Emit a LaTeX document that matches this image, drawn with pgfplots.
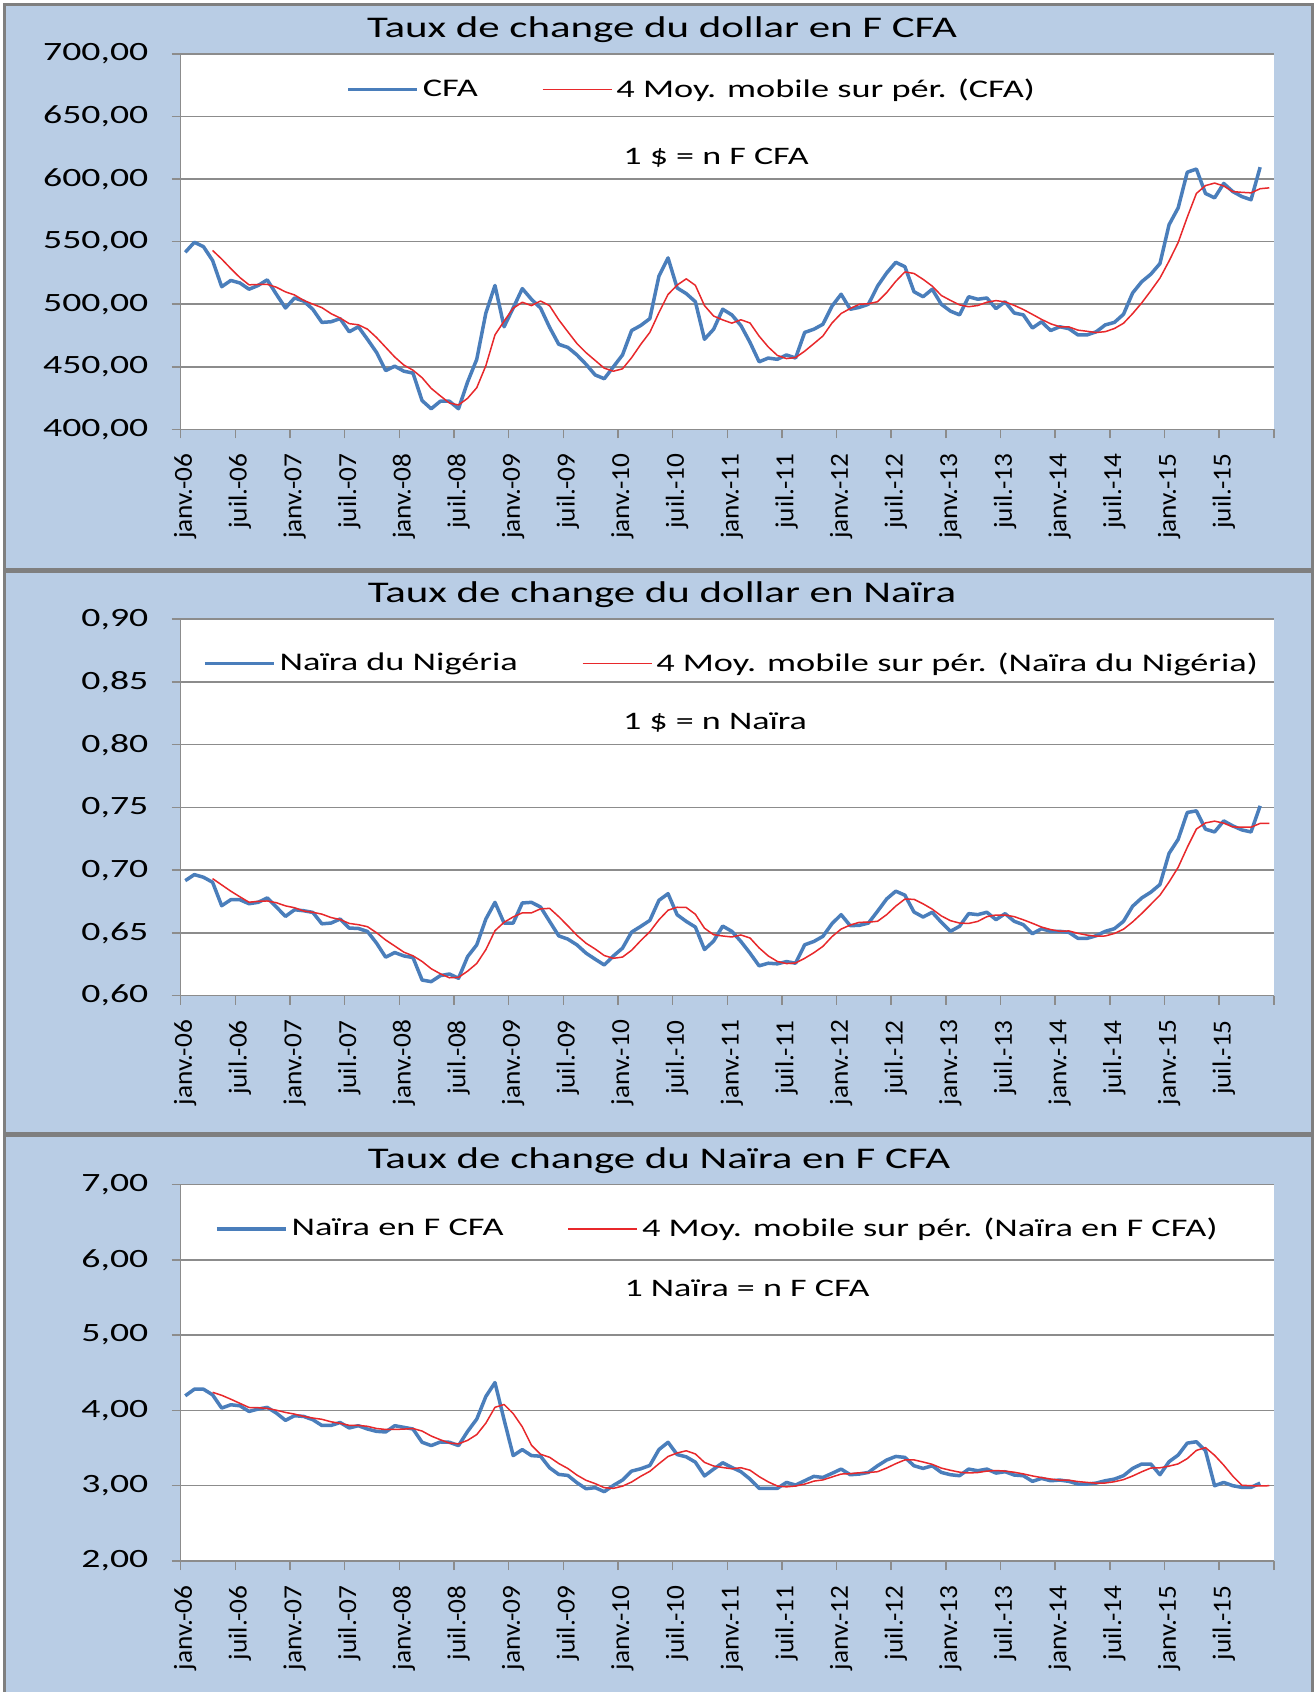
\documentclass[border=0pt]{standalone}
\usepackage{fontspec}
\setmainfont{Carlito}[FakeStretch=1.43]
\newfontfamily\xlabfont{Carlito}[FakeStretch=1.05]
\usepackage{pgfplots}
\usepackage{pgfplotstable}
\pgfplotsset{compat=1.18}
\definecolor{bgblue}{HTML}{B9CDE5}
\definecolor{serblue}{HTML}{4A7EBB}
\definecolor{serred}{HTML}{E8282B}
\definecolor{gridgray}{HTML}{8C8C8C}
\definecolor{panelgray}{HTML}{7F7F7F}

% ---------- Panel 1 : CFA ----------
\pgfplotstableread[row sep=\\]{x y\\
0 541.5\\ 1 549.5\\ 2 546\\ 3 535\\ 4 514\\ 5 519\\ 6 517\\ 7 512\\ 8 515\\ 9 519.5\\
10 508\\ 11 497\\ 12 505\\ 13 502.5\\ 14 496\\ 15 485.5\\ 16 486\\ 17 488.5\\ 18 478\\ 19 482\\
20 472\\ 21 461.5\\ 22 447\\ 23 450.5\\ 24 446.5\\ 25 445\\ 26 423\\ 27 416.5\\ 28 422.5\\ 29 422.5\\
30 416.5\\ 31 438\\ 32 456\\ 33 493\\ 34 515\\ 35 482\\ 36 497\\ 37 512.5\\ 38 504\\ 39 497\\
40 481.5\\ 41 468\\ 42 465.5\\ 43 459.5\\ 44 452\\ 45 443.5\\ 46 440.5\\ 47 450\\ 48 459.5\\ 49 479\\
50 483\\ 51 488.5\\ 52 522.5\\ 53 537\\ 54 513\\ 55 508.5\\ 56 502\\ 57 472\\ 58 480\\ 59 496\\
60 491.5\\ 61 483\\ 62 469.5\\ 63 454\\ 64 457\\ 65 456\\ 66 459.5\\ 67 457\\ 68 477.5\\ 69 480\\
70 484\\ 71 498.5\\ 72 508\\ 73 496\\ 74 497.5\\ 75 500\\ 76 514.5\\ 77 525\\ 78 533.5\\ 79 530\\
80 510\\ 81 506\\ 82 512\\ 83 500\\ 84 494.5\\ 85 491.5\\ 86 506\\ 87 504\\ 88 505\\ 89 496.5\\
90 502\\ 91 493\\ 92 491.5\\ 93 481\\ 94 486\\ 95 479\\ 96 482\\ 97 480.5\\ 98 475.5\\ 99 475.5\\
100 478\\ 101 483.5\\ 102 485.5\\ 103 492\\ 104 509\\ 105 518\\ 106 524\\ 107 532.5\\ 108 563.5\\ 109 577\\
110 605.5\\ 111 608\\ 112 588.5\\ 113 585\\ 114 596.5\\ 115 590\\ 116 586\\ 117 583.5\\ 118 609.5\\
}\tA
\pgfplotstableread[row sep=\\]{x y\\
3 543.0\\ 4 536.1\\ 5 528.5\\ 6 521.3\\ 7 515.5\\ 8 515.8\\ 9 515.9\\ 10 513.6\\ 11 509.9\\ 12 507.4\\
13 503.1\\ 14 500.1\\ 15 497.3\\ 16 492.5\\ 17 489.0\\ 18 484.5\\ 19 483.6\\ 20 480.1\\ 21 473.4\\ 22 465.6\\
23 457.8\\ 24 451.4\\ 25 447.3\\ 26 441.3\\ 27 432.8\\ 28 426.8\\ 29 421.1\\ 30 419.5\\ 31 424.9\\ 32 433.3\\
33 450.9\\ 34 475.5\\ 35 486.5\\ 36 496.8\\ 37 501.6\\ 38 498.9\\ 39 502.6\\ 40 498.8\\ 41 487.6\\ 42 478.0\\
43 468.6\\ 44 461.3\\ 45 455.1\\ 46 448.9\\ 47 446.5\\ 48 448.4\\ 49 457.3\\ 50 467.9\\ 51 477.5\\ 52 493.3\\
53 507.8\\ 54 515.3\\ 55 520.3\\ 56 515.1\\ 57 498.9\\ 58 490.6\\ 59 487.5\\ 60 484.9\\ 61 487.6\\ 62 485.0\\
63 474.5\\ 64 465.9\\ 65 459.1\\ 66 456.6\\ 67 457.4\\ 68 462.5\\ 69 468.5\\ 70 474.6\\ 71 485.0\\ 72 492.6\\
73 496.6\\ 74 500.0\\ 75 500.4\\ 76 502.0\\ 77 509.3\\ 78 518.3\\ 79 525.8\\ 80 524.6\\ 81 519.9\\ 82 514.5\\
83 507.0\\ 84 503.1\\ 85 499.5\\ 86 498.0\\ 87 499.0\\ 88 501.6\\ 89 502.9\\ 90 501.9\\ 91 499.1\\ 92 495.8\\
93 491.9\\ 94 487.9\\ 95 484.4\\ 96 482.0\\ 97 481.9\\ 98 479.3\\ 99 478.4\\ 100 477.4\\ 101 478.1\\ 102 480.6\\
103 484.8\\ 104 492.5\\ 105 501.1\\ 106 510.8\\ 107 520.9\\ 108 534.5\\ 109 549.3\\ 110 569.6\\ 111 588.5\\ 112 594.8\\
113 596.8\\ 114 594.5\\ 115 590.0\\ 116 589.4\\ 117 589.0\\ 118 592.3\\ 119 593.0\\
}\mA

% ---------- Panel 2 : Naira ----------
\pgfplotstableread[row sep=\\]{x y\\
0 0.6917\\ 1 0.6965\\ 2 0.6944\\ 3 0.6904\\ 4 0.6717\\ 5 0.6765\\ 6 0.6765\\ 7 0.6733\\ 8 0.6744\\ 9 0.6779\\
10 0.6707\\ 11 0.6632\\ 12 0.6685\\ 13 0.6677\\ 14 0.6664\\ 15 0.6573\\ 16 0.6579\\ 17 0.6611\\ 18 0.6539\\ 19 0.6536\\
20 0.6512\\ 21 0.6419\\ 22 0.6307\\ 23 0.6344\\ 24 0.6317\\ 25 0.6304\\ 26 0.6125\\ 27 0.6112\\ 28 0.6160\\ 29 0.6173\\
30 0.6139\\ 31 0.6312\\ 32 0.6405\\ 33 0.6611\\ 34 0.6744\\ 35 0.6579\\ 36 0.6579\\ 37 0.6739\\ 38 0.6744\\ 39 0.6707\\
40 0.6592\\ 41 0.6477\\ 42 0.6451\\ 43 0.6405\\ 44 0.6339\\ 45 0.6291\\ 46 0.6245\\ 47 0.6317\\ 48 0.6379\\ 49 0.6507\\
50 0.6552\\ 51 0.6600\\ 52 0.6760\\ 53 0.6813\\ 54 0.6645\\ 55 0.6592\\ 56 0.6547\\ 57 0.6368\\ 58 0.6435\\ 59 0.6555\\
60 0.6513\\ 61 0.6432\\ 62 0.6339\\ 63 0.6238\\ 64 0.6259\\ 65 0.6254\\ 66 0.6272\\ 67 0.6259\\ 68 0.6406\\ 69 0.6432\\
70 0.6473\\ 71 0.6574\\ 72 0.6646\\ 73 0.6558\\ 74 0.6561\\ 75 0.6579\\ 76 0.6673\\ 77 0.6771\\ 78 0.6833\\ 79 0.6801\\
80 0.6667\\ 81 0.6627\\ 82 0.6665\\ 83 0.6585\\ 84 0.6513\\ 85 0.6553\\ 86 0.6654\\ 87 0.6646\\ 88 0.6665\\ 89 0.6606\\
90 0.6654\\ 91 0.6593\\ 92 0.6566\\ 93 0.6494\\ 94 0.6534\\ 95 0.6513\\ 96 0.6513\\ 97 0.6505\\ 98 0.6457\\ 99 0.6457\\
100 0.6478\\ 101 0.6513\\ 102 0.6534\\ 103 0.6593\\ 104 0.6713\\ 105 0.6779\\ 106 0.6825\\ 107 0.6886\\ 108 0.7134\\ 109 0.7246\\
110 0.7460\\ 111 0.7473\\ 112 0.7327\\ 113 0.7305\\ 114 0.7393\\ 115 0.7353\\ 116 0.7321\\ 117 0.7305\\ 118 0.7513\\
}\tB
\pgfplotstableread[row sep=\\]{x y\\
3 0.6933\\ 4 0.6883\\ 5 0.6833\\ 6 0.6788\\ 7 0.6745\\ 8 0.6752\\ 9 0.6755\\ 10 0.6741\\ 11 0.6716\\ 12 0.6701\\
13 0.6675\\ 14 0.6665\\ 15 0.6650\\ 16 0.6623\\ 17 0.6607\\ 18 0.6576\\ 19 0.6566\\ 20 0.6550\\ 21 0.6502\\ 22 0.6444\\
23 0.6396\\ 24 0.6347\\ 25 0.6318\\ 26 0.6273\\ 27 0.6215\\ 28 0.6175\\ 29 0.6143\\ 30 0.6146\\ 31 0.6196\\ 32 0.6257\\
33 0.6367\\ 34 0.6518\\ 35 0.6585\\ 36 0.6628\\ 37 0.6660\\ 38 0.6660\\ 39 0.6692\\ 40 0.6696\\ 41 0.6630\\ 42 0.6557\\
43 0.6481\\ 44 0.6418\\ 45 0.6372\\ 46 0.6320\\ 47 0.6298\\ 48 0.6308\\ 49 0.6362\\ 50 0.6439\\ 51 0.6510\\ 52 0.6605\\
53 0.6681\\ 54 0.6705\\ 55 0.6703\\ 56 0.6649\\ 57 0.6538\\ 58 0.6486\\ 59 0.6476\\ 60 0.6468\\ 61 0.6484\\ 62 0.6460\\
63 0.6381\\ 64 0.6317\\ 65 0.6273\\ 66 0.6256\\ 67 0.6261\\ 68 0.6298\\ 69 0.6342\\ 70 0.6393\\ 71 0.6471\\ 72 0.6531\\
73 0.6563\\ 74 0.6585\\ 75 0.6586\\ 76 0.6593\\ 77 0.6646\\ 78 0.6714\\ 79 0.6770\\ 80 0.6768\\ 81 0.6732\\ 82 0.6690\\
83 0.6636\\ 84 0.6598\\ 85 0.6579\\ 86 0.6576\\ 87 0.6592\\ 88 0.6630\\ 89 0.6643\\ 90 0.6643\\ 91 0.6630\\ 92 0.6605\\
93 0.6577\\ 94 0.6547\\ 95 0.6527\\ 96 0.6514\\ 97 0.6516\\ 98 0.6497\\ 99 0.6483\\ 100 0.6474\\ 101 0.6476\\ 102 0.6496\\
103 0.6530\\ 104 0.6588\\ 105 0.6655\\ 106 0.6728\\ 107 0.6801\\ 108 0.6906\\ 109 0.7023\\ 110 0.7182\\ 111 0.7328\\ 112 0.7377\\
113 0.7391\\ 114 0.7375\\ 115 0.7345\\ 116 0.7343\\ 117 0.7343\\ 118 0.7373\\ 119 0.7373\\
}\mB

% ---------- Panel 3 : Naira en F CFA ----------
\pgfplotstableread[row sep=\\]{x y\\
0 4.194\\ 1 4.282\\ 2 4.282\\ 3 4.207\\ 4 4.031\\ 5 4.075\\ 6 4.062\\ 7 3.987\\ 8 4.018\\ 9 4.040\\
10 3.965\\ 11 3.868\\ 12 3.930\\ 13 3.920\\ 14 3.877\\ 15 3.800\\ 16 3.800\\ 17 3.840\\ 18 3.767\\ 19 3.797\\
20 3.753\\ 21 3.722\\ 22 3.714\\ 23 3.797\\ 24 3.775\\ 25 3.753\\ 26 3.577\\ 27 3.533\\ 28 3.581\\ 29 3.577\\
30 3.533\\ 31 3.722\\ 32 3.885\\ 33 4.185\\ 34 4.370\\ 35 3.877\\ 36 3.400\\ 37 3.480\\ 38 3.400\\ 39 3.392\\
40 3.238\\ 41 3.150\\ 42 3.137\\ 43 3.040\\ 44 2.960\\ 45 2.974\\ 46 2.921\\ 47 3.004\\ 48 3.075\\ 49 3.194\\
50 3.225\\ 51 3.269\\ 52 3.480\\ 53 3.577\\ 54 3.414\\ 55 3.383\\ 56 3.313\\ 57 3.130\\ 58 3.220\\ 59 3.305\\
60 3.243\\ 61 3.186\\ 62 3.088\\ 63 2.965\\ 64 2.965\\ 65 2.965\\ 66 3.044\\ 67 3.009\\ 68 3.066\\ 69 3.124\\
70 3.110\\ 71 3.164\\ 72 3.221\\ 73 3.146\\ 74 3.155\\ 75 3.177\\ 76 3.265\\ 77 3.341\\ 78 3.389\\ 79 3.376\\
80 3.265\\ 81 3.230\\ 82 3.265\\ 83 3.177\\ 84 3.146\\ 85 3.133\\ 86 3.221\\ 87 3.199\\ 88 3.221\\ 89 3.168\\
90 3.186\\ 91 3.142\\ 92 3.133\\ 93 3.058\\ 94 3.097\\ 95 3.066\\ 96 3.075\\ 97 3.058\\ 98 3.022\\ 99 3.022\\
100 3.035\\ 101 3.066\\ 102 3.088\\ 103 3.133\\ 104 3.230\\ 105 3.288\\ 106 3.288\\ 107 3.146\\ 108 3.319\\ 109 3.407\\
110 3.566\\ 111 3.584\\ 112 3.465\\ 113 3.000\\ 114 3.044\\ 115 3.000\\ 116 2.978\\ 117 2.978\\ 118 3.035\\
}\tC
\pgfplotstableread[row sep=\\]{x y\\
3 4.241\\ 4 4.201\\ 5 4.149\\ 6 4.094\\ 7 4.039\\ 8 4.036\\ 9 4.027\\ 10 4.003\\ 11 3.973\\ 12 3.951\\
13 3.921\\ 14 3.899\\ 15 3.882\\ 16 3.849\\ 17 3.829\\ 18 3.802\\ 19 3.801\\ 20 3.789\\ 21 3.760\\ 22 3.747\\
23 3.747\\ 24 3.752\\ 25 3.760\\ 26 3.726\\ 27 3.660\\ 28 3.611\\ 29 3.567\\ 30 3.556\\ 31 3.603\\ 32 3.679\\
33 3.831\\ 34 4.041\\ 35 4.079\\ 36 3.958\\ 37 3.782\\ 38 3.539\\ 39 3.418\\ 40 3.378\\ 41 3.295\\ 42 3.229\\
43 3.141\\ 44 3.072\\ 45 3.028\\ 46 2.974\\ 47 2.965\\ 48 2.994\\ 49 3.049\\ 50 3.125\\ 51 3.191\\ 52 3.292\\
53 3.388\\ 54 3.435\\ 55 3.464\\ 56 3.422\\ 57 3.310\\ 58 3.262\\ 59 3.242\\ 60 3.225\\ 61 3.239\\ 62 3.206\\
63 3.121\\ 64 3.051\\ 65 2.996\\ 66 2.985\\ 67 2.996\\ 68 3.021\\ 69 3.061\\ 70 3.077\\ 71 3.116\\ 72 3.155\\
73 3.160\\ 74 3.172\\ 75 3.175\\ 76 3.186\\ 77 3.235\\ 78 3.293\\ 79 3.343\\ 80 3.343\\ 81 3.315\\ 82 3.284\\
83 3.234\\ 84 3.205\\ 85 3.180\\ 86 3.169\\ 87 3.175\\ 88 3.194\\ 89 3.202\\ 90 3.194\\ 91 3.179\\ 92 3.157\\
93 3.130\\ 94 3.108\\ 95 3.089\\ 96 3.074\\ 97 3.074\\ 98 3.055\\ 99 3.044\\ 100 3.034\\ 101 3.036\\ 102 3.053\\
103 3.081\\ 104 3.129\\ 105 3.185\\ 106 3.235\\ 107 3.238\\ 108 3.260\\ 109 3.290\\ 110 3.360\\ 111 3.469\\ 112 3.506\\
113 3.404\\ 114 3.273\\ 115 3.127\\ 116 3.006\\ 117 3.000\\ 118 2.998\\ 119 3.000\\
}\mC

\pgfplotsset{
  panel/.style={
    scale only axis,
    width=546.55pt,
    xmin=-0.5, xmax=119.5,
    axis lines*=left,
    axis line style={gridgray, line width=0.75pt},
    axis background/.style={fill=white},
    ymajorgrids,
    grid style={gridgray, line width=0.75pt},
    tick align=outside,
    major tick length=4.5pt,
    tick style={gridgray, line width=0.75pt},
    xtick={-0.5,5.5,...,119.5},
    xticklabels={},
    extra x ticks={0,6,...,114},
    extra x tick labels={janv.-06,juil.-06,janv.-07,juil.-07,janv.-08,juil.-08,janv.-09,juil.-09,janv.-10,juil.-10,janv.-11,juil.-11,janv.-12,juil.-12,janv.-13,juil.-13,janv.-14,juil.-14,janv.-15,juil.-15},
    extra x tick style={grid=none, major tick length=0pt},
    x tick label style={font=\xlabfont\fontsize{13}{13}\selectfont, rotate=90, anchor=east, inner sep=0pt},
    xticklabel shift=12pt,
    y tick label style={font=\fontsize{13.2}{14}\selectfont, inner sep=0pt,
      /pgf/number format/fixed, /pgf/number format/fixed zerofill,
      /pgf/number format/precision=2, /pgf/number format/use comma,
      /pgf/number format/1000 sep={}, /pgf/number format/assume math mode=true},
    yticklabel shift=11.5pt,
    legend columns=2,
    legend style={draw=none, fill=none, anchor=west, inner sep=0pt,
      font=\fontsize{12.7}{14}\selectfont,
      /tikz/every even column/.append style={column sep=30pt}},
    legend cell align=left,
    legend image code/.code={\draw[##1] (0pt,0pt) -- (34.5pt,0pt);},
  },
  blueline/.style={serblue, line width=1.75pt, line join=round, mark=none},
  redline/.style={serred, line width=0.75pt, line join=round, mark=none},
}

\begin{document}
\begin{tikzpicture}
\useasboundingbox (0,0) rectangle (657pt,-846pt);
\fill[white] (0,0) rectangle (657pt,-846pt);
\filldraw[fill=bgblue, draw=panelgray, line width=1.5pt] (2pt,-2pt) rectangle (656pt,-284.5pt);
\filldraw[fill=bgblue, draw=panelgray, line width=1.5pt] (2pt,-285.5pt) rectangle (656pt,-566.5pt);
\filldraw[fill=bgblue, draw=panelgray, line width=1.5pt] (2pt,-567.5pt) rectangle (656pt,-852pt);

% Panel 1
\begin{axis}[panel, at={(90.35pt,-214.7pt)}, anchor=south west, height=187.75pt,
  ymin=400, ymax=700, ytick={400,450,500,550,600,650,700},
  legend style={at={(0.1512,0.9052)}}]
\addplot[blueline] table {\tA};
\addlegendentry{CFA}
\addplot[redline] table {\mA};
\addlegendentry{4 Moy. mobile sur pér. (CFA)}
\end{axis}

% Panel 2
\begin{axis}[panel, at={(90.35pt,-497.85pt)}, anchor=south west, height=188.25pt,
  ymin=0.6, ymax=0.9, ytick={0.60,0.65,0.70,0.75,0.80,0.85,0.90},
  legend style={at={(0.0202,0.8823)}}]
\addplot[blueline] table {\tB};
\addlegendentry{Naïra du Nigéria}
\addplot[redline] table {\mB};
\addlegendentry{4 Moy. mobile sur pér. (Naïra du Nigéria)}
\end{axis}

% Panel 3
\begin{axis}[panel, at={(90.35pt,-780.5pt)}, anchor=south west, height=188.25pt,
  ymin=2, ymax=7, ytick={2,3,4,5,6,7},
  legend style={at={(0.0311,0.8823)}}]
\addplot[blueline] table {\tC};
\addlegendentry{Naïra en F CFA}
\addplot[redline] table {\mC};
\addlegendentry{4 Moy. mobile sur pér. (Naïra en F CFA)}
\end{axis}

\node[font=\fontsize{15}{16}\selectfont] at (331pt,-15pt) {Taux de change du dollar en F CFA};
\node[font=\fontsize{15}{16}\selectfont] at (331pt,-297.2pt) {Taux de change du dollar en Naïra};
\node[font=\fontsize{15}{16}\selectfont] at (329.5pt,-580.4pt) {Taux de change du Naïra en F CFA};
\node[font=\fontsize{12.6}{14}\selectfont] at (358pt,-78.75pt) {1 \$ = n F CFA};
\node[font=\fontsize{12.6}{14}\selectfont] at (357.5pt,-361.4pt) {1 \$ = n Naïra};
\node[font=\fontsize{12.6}{14}\selectfont] at (373.5pt,-644pt) {1 Naïra = n F CFA};
\end{tikzpicture}
\end{document}
